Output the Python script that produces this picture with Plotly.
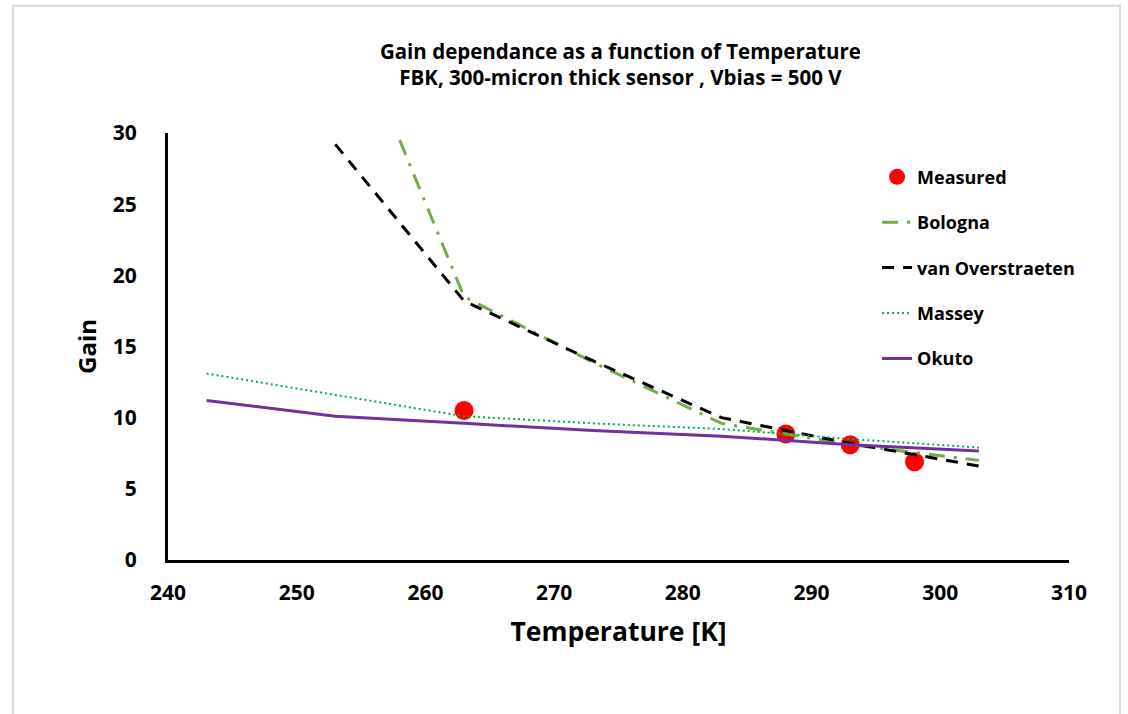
import plotly.graph_objects as go

# Measured data
meas_T = [263, 288, 293, 298]
meas_G = [10.5, 8.85, 8.1, 6.9]

# Models
bol_T = [258, 263, 273, 283, 293, 303]
bol_G = [29.5, 18.5, 13.9, 9.6, 8.1, 7.0]

vo_T = [253, 263, 273, 283, 293, 303]
vo_G = [29.2, 18.2, 14.0, 10.0, 8.2, 6.6]

mas_T = [243, 253, 263, 273, 283, 293, 303]
mas_G = [13.1, 11.6, 10.1, 9.6, 9.2, 8.5, 7.9]

oku_T = [243, 253, 263, 273, 283, 293, 303]
oku_G = [11.2, 10.1, 9.6, 9.1, 8.7, 8.1, 7.65]

FONT = "Open Sans, Arial, sans-serif"

fig = go.Figure()
fig.add_trace(go.Scatter(x=meas_T, y=meas_G, mode="markers", name="<b>Measured</b>",
                         marker=dict(color="#FF0000", size=19), legendgroup="a"))
fig.add_trace(go.Scatter(x=bol_T, y=bol_G, mode="lines", name="<b>Bologna</b>",
                         line=dict(color="#70AD47", width=3, dash="16px,9px,3px,9px"), legendgroup="b"))
fig.add_trace(go.Scatter(x=vo_T, y=vo_G, mode="lines", name="<b>van Overstraeten</b>",
                         line=dict(color="#000000", width=3, dash="12px,9px"), legendgroup="c"))
fig.add_trace(go.Scatter(x=mas_T, y=mas_G, mode="lines", name="<b>Massey</b>",
                         line=dict(color="#00B050", width=2, dash="2px,3px"), legendgroup="d"))
fig.add_trace(go.Scatter(x=oku_T, y=oku_G, mode="lines", name="<b>Okuto</b>",
                         line=dict(color="#7030A0", width=3), legendgroup="e"))

fig.update_layout(
    width=1128, height=714,
    margin=dict(l=168, r=59, t=133, b=154),
    paper_bgcolor="white", plot_bgcolor="white",
    font=dict(family=FONT, color="black", size=17),
    title=dict(text="<b>Gain dependance as a function of Temperature<br>FBK, 300-micron thick sensor , Vbias = 500 V</b>",
               x=0.55, xanchor="center", y=0.918, yanchor="top",
               font=dict(family=FONT, size=20.5, color="black")),
    xaxis=dict(range=[240, 310], dtick=10, tick0=240, showgrid=False, zeroline=False,
               showline=True, linecolor="black", linewidth=3, ticks="",
               ticklabelstandoff=12,
               tickfont=dict(family=FONT, size=21, color="black"),
               tickprefix="<b>", ticksuffix="</b>",
               title=dict(text="<b>Temperature [K]</b>", font=dict(family=FONT, size=26.5, color="black"),
                          standoff=18)),
    yaxis=dict(range=[0, 30], dtick=5, showgrid=False, zeroline=False,
               showline=True, linecolor="black", linewidth=3, ticks="",
               ticklabelstandoff=24,
               tickfont=dict(family=FONT, size=21, color="black"),
               tickprefix="<b>", ticksuffix="</b>",
               title=dict(text="<b>Gain</b>", font=dict(family=FONT, size=24, color="black"),
                          standoff=10)),
    legend=dict(x=0.787, y=0.94, xanchor="left", yanchor="top",
                bgcolor="rgba(0,0,0,0)", traceorder="grouped", tracegroupgap=19,
                font=dict(family=FONT, size=18, color="black")),
    shapes=[dict(type="rect", xref="paper", yref="paper",
                 x0=-0.172, x1=1.0566, y0=-0.38, y1=1.298,
                 line=dict(color="#D9D9D9", width=2), fillcolor="rgba(0,0,0,0)", layer="below")],
)

fig.write_html("out.html", config={"displayModeBar": False},
               post_script="document.body.style.margin='0';document.body.style.overflow='hidden';")
